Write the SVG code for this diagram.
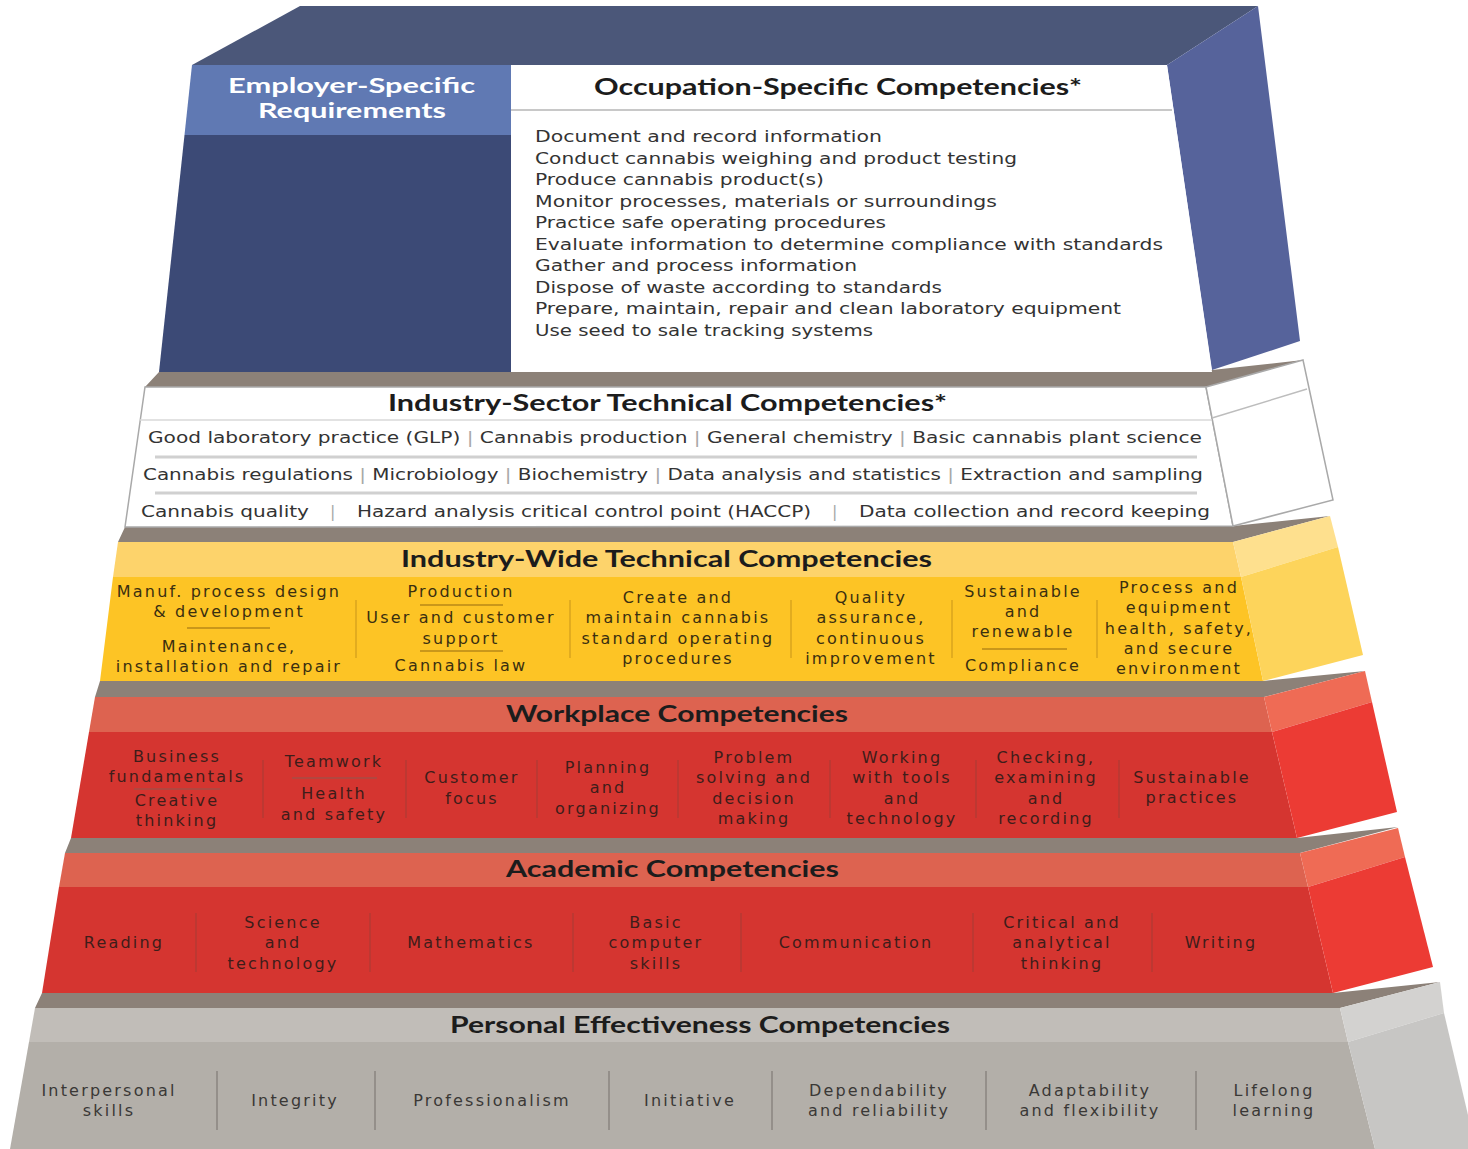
<svg xmlns="http://www.w3.org/2000/svg" width="1468" height="1149" viewBox="0 0 1468 1149">
<style>
.title{font-family:"Lato","Liberation Sans",sans-serif;font-weight:700;font-size:22px;fill:#1c1c1c}
.emp{font-family:"Lato","Liberation Sans",sans-serif;font-weight:700;font-size:20px;fill:#ffffff}
.bul{font-family:"DejaVu Sans","Liberation Sans",sans-serif;font-size:15.5px;fill:#333333}
.row{font-family:"DejaVu Sans","Liberation Sans",sans-serif;font-size:16px;fill:#333333}
.pipe{fill:#a8a8a8}
.col{font-family:"DejaVu Sans","Liberation Sans",sans-serif;font-size:16px;letter-spacing:2.2px;text-anchor:middle}
.ty{fill:#3a2f10}
.tr{fill:#3e1d1a}
.tg{fill:#3a3836}
.gray{fill:#8c8178}
.dy{stroke:#d9a51e;stroke-width:1.5}
.dr{stroke:#b53a33;stroke-width:1.5}
.dg{stroke:#8a8580;stroke-width:1.5}
.hy{stroke:#c9971a;stroke-width:2}
.hr{stroke:#b2463f;stroke-width:2}
.box{fill:#ffffff;stroke:#a9a9a9;stroke-width:1.5}
</style>

<g id="layer-personal">
<polygon class="gray" points="42,993 1333,993 1440,982 1340,1008 35,1008"/>
<polygon fill="#c1bdb8" points="35,1008 1340,1008 1348,1042 29,1042"/>
<polygon fill="#b3afa9" points="29,1042 1348,1042 1375,1149 10,1149"/>
<polygon fill="#d3d2d0" points="1340,1008 1440,982 1444,1013 1348,1042"/>
<polygon fill="#c7c6c4" points="1348,1042 1444,1013 1468,1115 1468,1149 1375,1149"/>
<text class="title" x="450" y="1033" textLength="500" lengthAdjust="spacingAndGlyphs">Personal Effectiveness Competencies</text>
<g class="dg">
<line x1="217" y1="1071" x2="217" y2="1130"/><line x1="375" y1="1071" x2="375" y2="1130"/>
<line x1="609" y1="1071" x2="609" y2="1130"/><line x1="772" y1="1071" x2="772" y2="1130"/>
<line x1="986" y1="1071" x2="986" y2="1130"/><line x1="1196" y1="1071" x2="1196" y2="1130"/>
</g>
<g class="col tg">
<text x="109" y="1096">Interpersonal</text><text x="109" y="1116">skills</text>
<text x="295" y="1106">Integrity</text>
<text x="492" y="1106">Professionalism</text>
<text x="690" y="1106">Initiative</text>
<text x="879" y="1096">Dependability</text><text x="879" y="1116">and reliability</text>
<text x="1090" y="1096">Adaptability</text><text x="1090" y="1116">and flexibility</text>
<text x="1274" y="1096">Lifelong</text><text x="1274" y="1116">learning</text>
</g>
</g>

<g id="layer-academic">
<polygon class="gray" points="71,838 1297,838 1398,827 1300,853 65,853"/>
<polygon fill="#dd6350" points="65,853 1300,853 1308,887 59,887"/>
<polygon fill="#d53530" points="59,887 1308,887 1333,993 42,993"/>
<polygon fill="#ef6b55" points="1300,853 1398,828 1405,857 1308,887"/>
<polygon fill="#ec3b34" points="1308,887 1405,857 1433,967 1333,993"/>
<text class="title" x="506" y="877" textLength="333" lengthAdjust="spacingAndGlyphs">Academic Competencies</text>
<g class="dr">
<line x1="196" y1="913" x2="196" y2="972"/><line x1="370" y1="913" x2="370" y2="972"/>
<line x1="573" y1="913" x2="573" y2="972"/><line x1="741" y1="913" x2="741" y2="972"/>
<line x1="973" y1="913" x2="973" y2="972"/><line x1="1152" y1="913" x2="1152" y2="972"/>
</g>
<g class="col tr">
<text x="124" y="948">Reading</text>
<text x="283" y="928">Science</text><text x="283" y="948">and</text><text x="283" y="969">technology</text>
<text x="471" y="948">Mathematics</text>
<text x="656" y="928">Basic</text><text x="656" y="948">computer</text><text x="656" y="969">skills</text>
<text x="856" y="948">Communication</text>
<text x="1062" y="928">Critical and</text><text x="1062" y="948">analytical</text><text x="1062" y="969">thinking</text>
<text x="1221" y="948">Writing</text>
</g>
</g>

<g id="layer-workplace">
<polygon class="gray" points="100,681 1263,681 1365,671 1264,697 95,697"/>
<polygon fill="#dd6350" points="95,697 1264,697 1272,732 89,732"/>
<polygon fill="#d53530" points="89,732 1272,732 1297,838 71,838"/>
<polygon fill="#ef6b55" points="1264,697 1365,671 1372,702 1272,732"/>
<polygon fill="#ec3b34" points="1272,732 1372,702 1397,812 1297,838"/>
<text class="title" x="506" y="722" textLength="342" lengthAdjust="spacingAndGlyphs">Workplace Competencies</text>
<g class="dr">
<line x1="263" y1="760" x2="263" y2="818"/><line x1="406" y1="760" x2="406" y2="818"/>
<line x1="537" y1="760" x2="537" y2="818"/><line x1="678" y1="760" x2="678" y2="818"/>
<line x1="830" y1="760" x2="830" y2="818"/><line x1="976" y1="760" x2="976" y2="818"/>
<line x1="1119" y1="760" x2="1119" y2="818"/>
</g>
<g class="hr">
<line x1="134" y1="789" x2="220" y2="789"/><line x1="292" y1="778" x2="377" y2="778"/>
</g>
<g class="col tr">
<text x="177" y="762">Business</text><text x="177" y="782">fundamentals</text>
<text x="177" y="806">Creative</text><text x="177" y="826">thinking</text>
<text x="334" y="767">Teamwork</text>
<text x="334" y="799">Health</text><text x="334" y="820">and safety</text>
<text x="472" y="783">Customer</text><text x="472" y="804">focus</text>
<text x="608" y="773">Planning</text><text x="608" y="793">and</text><text x="608" y="814">organizing</text>
<text x="754" y="763">Problem</text><text x="754" y="783">solving and</text><text x="754" y="804">decision</text><text x="754" y="824">making</text>
<text x="902" y="763">Working</text><text x="902" y="783">with tools</text><text x="902" y="804">and</text><text x="902" y="824">technology</text>
<text x="1046" y="763">Checking,</text><text x="1046" y="783">examining</text><text x="1046" y="804">and</text><text x="1046" y="824">recording</text>
<text x="1192" y="783">Sustainable</text><text x="1192" y="803">practices</text>
</g>
</g>

<g id="layer-industry-wide">
<polygon class="gray" points="125,527 1233,526 1330,516 1233,542 118,542"/>
<polygon fill="#fdd36b" points="118,542 1233,542 1241,577 113,577"/>
<polygon fill="#fdc425" points="113,577 1241,577 1263,681 100,681"/>
<polygon fill="#fee08e" points="1233,542 1330,516 1338,547 1241,577"/>
<polygon fill="#fdd45b" points="1241,577 1338,547 1363,655 1263,681"/>
<text class="title" x="401" y="567" textLength="531" lengthAdjust="spacingAndGlyphs">Industry-Wide Technical Competencies</text>
<g class="dy">
<line x1="356" y1="600" x2="356" y2="658"/><line x1="570" y1="600" x2="570" y2="658"/>
<line x1="791" y1="600" x2="791" y2="658"/><line x1="952" y1="600" x2="952" y2="658"/>
<line x1="1097" y1="600" x2="1097" y2="658"/>
</g>
<g class="hy">
<line x1="187" y1="628" x2="270" y2="628"/>
<line x1="420" y1="605" x2="503" y2="605"/><line x1="420" y1="651" x2="503" y2="651"/>
<line x1="982" y1="649" x2="1067" y2="649"/>
</g>
<g class="col ty">
<text x="229" y="597">Manuf. process design</text><text x="229" y="617">&amp; development</text>
<text x="229" y="652">Maintenance,</text><text x="229" y="672">installation and repair</text>
<text x="461" y="597">Production</text>
<text x="461" y="623">User and customer</text><text x="461" y="644">support</text>
<text x="461" y="671">Cannabis law</text>
<text x="678" y="603">Create and</text><text x="678" y="623">maintain cannabis</text><text x="678" y="644">standard operating</text><text x="678" y="664">procedures</text>
<text x="871" y="603">Quality</text><text x="871" y="623">assurance,</text><text x="871" y="644">continuous</text><text x="871" y="664">improvement</text>
<text x="1023" y="597">Sustainable</text><text x="1023" y="617">and</text><text x="1023" y="637">renewable</text>
<text x="1023" y="671">Compliance</text>
<text x="1179" y="593">Process and</text><text x="1179" y="613">equipment</text><text x="1179" y="634">health, safety,</text><text x="1179" y="654">and secure</text><text x="1179" y="674">environment</text>
</g>
</g>

<g id="layer-industry-sector">
<polygon class="gray" points="159,372 1212,370 1303,360 1206,387 145,387"/>
<polygon class="box" points="145,387 1206,387 1233,526 125,527"/>
<polygon class="box" points="1206,387 1303,360 1333,500 1233,526"/>
<line x1="1212" y1="418" x2="1307" y2="389" stroke="#bdbdbd" stroke-width="1.5"/>
<line x1="140" y1="420" x2="1212" y2="420" stroke="#d9d9d9" stroke-width="1.5"/>
<line x1="155" y1="457" x2="1197" y2="457" stroke="#d0d0d0" stroke-width="3"/>
<line x1="155" y1="493" x2="1197" y2="493" stroke="#d0d0d0" stroke-width="3"/>
<text class="title" x="388" y="411" textLength="559" lengthAdjust="spacingAndGlyphs">Industry-Sector Technical Competencies*</text>
<text class="row" x="148" y="443" textLength="1054" lengthAdjust="spacingAndGlyphs">Good laboratory practice (GLP) <tspan class="pipe">|</tspan> Cannabis production <tspan class="pipe">|</tspan> General chemistry <tspan class="pipe">|</tspan> Basic cannabis plant science</text>
<text class="row" x="143" y="480" textLength="1060" lengthAdjust="spacingAndGlyphs">Cannabis regulations <tspan class="pipe">|</tspan> Microbiology <tspan class="pipe">|</tspan> Biochemistry <tspan class="pipe">|</tspan> Data analysis and statistics <tspan class="pipe">|</tspan> Extraction and sampling</text>
<text class="row" x="141" y="517" textLength="168" lengthAdjust="spacingAndGlyphs">Cannabis quality</text>
<text class="row pipe" x="330" y="517">|</text>
<text class="row" x="357" y="517" textLength="454" lengthAdjust="spacingAndGlyphs">Hazard analysis critical control point (HACCP)</text>
<text class="row pipe" x="832" y="517">|</text>
<text class="row" x="859" y="517" textLength="351" lengthAdjust="spacingAndGlyphs">Data collection and record keeping</text>
</g>

<g id="layer-occupation-employer">
<polygon fill="#4b5779" points="192,65 300,6 1258,6 1167,65"/>
<polygon fill="#56639b" points="1167,65 1258,6 1300,341 1212,370"/>
<g id="employer-specific">
<polygon fill="#6079b3" points="192,65 511,65 511,135 184.5,135"/>
<polygon fill="#3c4a76" points="184.5,135 511,135 511,372 159,372"/>
<text class="emp" x="228" y="93" textLength="247" lengthAdjust="spacingAndGlyphs">Employer-Specific</text>
<text class="emp" x="258" y="118" textLength="188" lengthAdjust="spacingAndGlyphs">Requirements</text>
</g>
<g id="occupation-specific">
<polygon fill="#ffffff" points="511,65 1167,65 1212,372 511,372"/>
<line x1="511" y1="110" x2="1172" y2="110" stroke="#c8c8c8" stroke-width="2"/>
<text class="title" x="594" y="95" textLength="488" lengthAdjust="spacingAndGlyphs">Occupation-Specific Competencies*</text>
<text class="bul" x="535" y="142" textLength="347" lengthAdjust="spacingAndGlyphs">Document and record information</text>
<text class="bul" x="535" y="163.5" textLength="482" lengthAdjust="spacingAndGlyphs">Conduct cannabis weighing and product testing</text>
<text class="bul" x="535" y="185" textLength="289" lengthAdjust="spacingAndGlyphs">Produce cannabis product(s)</text>
<text class="bul" x="535" y="206.5" textLength="462" lengthAdjust="spacingAndGlyphs">Monitor processes, materials or surroundings</text>
<text class="bul" x="535" y="228" textLength="351" lengthAdjust="spacingAndGlyphs">Practice safe operating procedures</text>
<text class="bul" x="535" y="249.5" textLength="628" lengthAdjust="spacingAndGlyphs">Evaluate information to determine compliance with standards</text>
<text class="bul" x="535" y="271" textLength="322" lengthAdjust="spacingAndGlyphs">Gather and process information</text>
<text class="bul" x="535" y="292.5" textLength="407" lengthAdjust="spacingAndGlyphs">Dispose of waste according to standards</text>
<text class="bul" x="535" y="314" textLength="586" lengthAdjust="spacingAndGlyphs">Prepare, maintain, repair and clean laboratory equipment</text>
<text class="bul" x="535" y="335.5" textLength="338" lengthAdjust="spacingAndGlyphs">Use seed to sale tracking systems</text>
</g>
</g>

<g id="connectors"/>
</svg>
